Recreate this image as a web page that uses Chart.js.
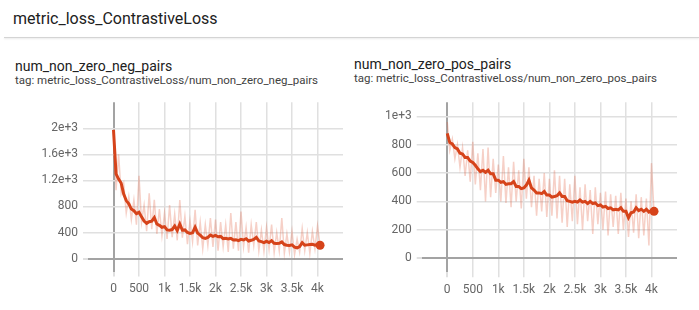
<!DOCTYPE html>
<html>
<head>
<meta charset="utf-8">
<script src="https://cdn.jsdelivr.net/npm/chart.js@4"></script>
<style>
  body { margin: 0; background: #fff; font-family: Roboto, sans-serif; }
  #page { position: relative; width: 699px; height: 310px; overflow: hidden; }
  .header { position: absolute; left: 13px; top: 9px; font-size: 16px; color: #212121; }
  .sep { position: absolute; left: 4px; right: 0; top: 37px; height: 1px; background: #d4d4d4; box-shadow: 0 1px 2px rgba(0,0,0,0.12); }
  .title { position: absolute; font-size: 14px; color: #212121; }
  .tag { position: absolute; font-size: 11.5px; color: #424242; }
  canvas { position: absolute; }
</style>
</head>
<body>
<div id="page">
  <div class="header">metric_loss_ContrastiveLoss</div>
  <div class="sep"></div>
  <div class="title" style="left:15px;top:58px;">num_non_zero_neg_pairs</div>
  <div class="tag" style="left:15px;top:73px;">tag: metric_loss_ContrastiveLoss/num_non_zero_neg_pairs</div>
  <div class="title" style="left:354px;top:56px;">num_non_zero_pos_pairs</div>
  <div class="tag" style="left:354px;top:71px;">tag: metric_loss_ContrastiveLoss/num_non_zero_pos_pairs</div>
  <canvas id="neg" width="350" height="212" style="left:0;top:90px;"></canvas>
  <canvas id="pos" width="349" height="212" style="left:350px;top:90px;"></canvas>
</div>
<script>
// training steps
const steps = [0, 50, 100, 150, 200, 250, 300, 350, 400, 450,
  500, 550, 600, 650, 700, 750, 800, 850, 900, 950,
  1000, 1050, 1100, 1150, 1200, 1250, 1300, 1350, 1400, 1450,
  1500, 1550, 1600, 1650, 1700, 1750, 1800, 1850, 1900, 1950,
  2000, 2050, 2100, 2150, 2200, 2250, 2300, 2350, 2400, 2450,
  2500, 2550, 2600, 2650, 2700, 2750, 2800, 2850, 2900, 2950,
  3000, 3050, 3100, 3150, 3200, 3250, 3300, 3350, 3400, 3450,
  3500, 3550, 3600, 3650, 3700, 3750, 3800, 3850, 3900, 3950,
  4000, 4050];

// num_non_zero_neg_pairs
const negRaw = [1950, 1050, 1600, 1000, 1150, 700, 950, 600, 900, 520,
  1270, 560, 820, 420, 1000, 450, 900, 380, 760, 350,
  700, 300, 820, 330, 680, 280, 900, 320, 650, 220,
  580, 260, 750, 200, 560, 150, 520, 200, 620, 180,
  600, 120, 560, 180, 520, 100, 700, 150, 560, 120,
  720, 180, 480, 90, 520, 200, 560, 120, 440, 110,
  480, 140, 520, 90, 400, 120, 620, 80, 380, 100,
  420, 60, 300, 100, 460, 120, 400, 80, 420, 150,
  500, 200];
const negSmooth = [1975, 1300, 1220, 1160, 990, 890, 840, 760, 735, 690,
  710, 640, 575, 540, 565, 575, 630, 530, 510, 480,
  490, 440, 435, 445, 500, 430, 530, 435, 440, 400,
  385, 395, 480, 390, 360, 320, 310, 325, 360, 340,
  355, 335, 340, 305, 310, 300, 310, 285, 290, 275,
  295, 285, 305, 270, 280, 295, 325, 270, 260, 245,
  265, 245, 275, 235, 230, 235, 255, 215, 205, 200,
  210, 175, 165, 185, 245, 205, 210, 215, 220, 205,
  215, 205];

// num_non_zero_pos_pairs
const posRaw = [960, 760, 840, 700, 800, 640, 780, 580, 760, 540,
  820, 520, 740, 480, 770, 400, 780, 430, 700, 460,
  660, 400, 720, 390, 640, 360, 680, 400, 620, 350,
  700, 420, 640, 360, 580, 300, 560, 330, 600, 290,
  560, 300, 620, 280, 580, 250, 560, 220, 520, 260,
  580, 240, 500, 200, 520, 260, 480, 170, 500, 240,
  460, 200, 470, 160, 450, 220, 440, 170, 460, 200,
  420, 150, 400, 180, 450, 140, 430, 160, 420, 90,
  670, 320];
const posSmooth = [880, 815, 805, 780, 770, 740, 735, 710, 710, 685,
  675, 655, 630, 610, 620, 605, 620, 595, 595, 550,
  550, 535, 540, 520, 525, 525, 540, 505, 505, 490,
  495, 515, 550, 495, 480, 460, 460, 455, 470, 445,
  445, 430, 435, 440, 460, 435, 435, 405, 400, 395,
  400, 395, 410, 395, 400, 385, 400, 385, 390, 370,
  375, 360, 365, 350, 355, 340, 345, 340, 355, 330,
  330, 285, 320, 325, 355, 335, 345, 330, 345, 325,
  335, 330];

// axis ticks
const xTicks = [0, 500, 1000, 1500, 2000, 2500, 3000, 3500, 4000];
const negYTicks = [0, 400, 800, 1200, 1600, 2000];
const posYTicks = [0, 200, 400, 600, 800, 1000];

const lineColor = '#d6431a';
const rawColor = 'rgba(226, 100, 70, 0.3)';

function fmtX(v) {
  if (!xTicks.includes(v)) return null;
  return v < 1000 ? String(v) : (v / 1000) + 'k';
}
function fmtY(list) {
  return v => {
    if (!list.includes(v)) return null;
    return v < 1000 ? String(v) : (v / 1000) + 'e+3';
  };
}

function makeChart(id, raw, smooth, yMin, yMax, yStep, yList, pad, yWidth, xHeight) {
  const last = steps.length - 1;
  const gridColor = c => (c.tick && c.tick.value === 0) ? '#a3a3a3' : '#e0e0e0';
  const gridWidth = c => (c.tick && c.tick.value === 0) ? 2 : 1.5;
  new Chart(document.getElementById(id), {
    type: 'line',
    data: {
      datasets: [
        {
          data: steps.map((s, i) => ({ x: s, y: smooth[i] })),
          borderColor: lineColor,
          backgroundColor: lineColor,
          borderWidth: 3,
          pointRadius: c => c.dataIndex === last ? 4.5 : 0,
          pointBorderWidth: 0,
          tension: 0,
          order: 0
        },
        {
          data: steps.map((s, i) => ({ x: s, y: raw[i] })),
          borderColor: rawColor,
          borderWidth: 1.5,
          pointRadius: 0,
          tension: 0,
          order: 1
        }
      ]
    },
    options: {
      responsive: false,
      animation: false,
      devicePixelRatio: 1,
      layout: { padding: pad },
      plugins: { legend: { display: false }, tooltip: { enabled: false } },
      scales: {
        x: {
          type: 'linear',
          min: -500,
          max: 4500,
          border: { display: false },
          grid: { color: gridColor, lineWidth: gridWidth, tickLength: 5, tickColor: '#e0e0e0' },
          ticks: {
            stepSize: 500, autoSkip: false, maxRotation: 0, padding: 5,
            color: '#666', font: { family: 'Roboto', size: 12 },
            callback: fmtX
          },
          afterFit: s => { s.height = xHeight; }
        },
        y: {
          min: yMin,
          max: yMax,
          border: { display: false },
          grid: { color: gridColor, lineWidth: gridWidth, tickLength: 5, tickColor: '#e0e0e0' },
          ticks: {
            stepSize: yStep, autoSkip: false, padding: 5,
            color: '#666', font: { family: 'Roboto', size: 12 },
            callback: fmtY(yList)
          },
          afterFit: s => { s.width = yWidth; }
        }
      }
    }
  });
}

makeChart('neg', negRaw, negSmooth, -200, 2400, 200, negYTicks,
  { top: 7.6, right: 7, left: 0, bottom: 0 }, 88, 30.4);
makeChart('pos', posRaw, posSmooth, -100, 1100, 100, posYTicks,
  { top: 7.2, right: 22, left: 0, bottom: 0 }, 71.7, 29.7);
</script>
</body>
</html>
